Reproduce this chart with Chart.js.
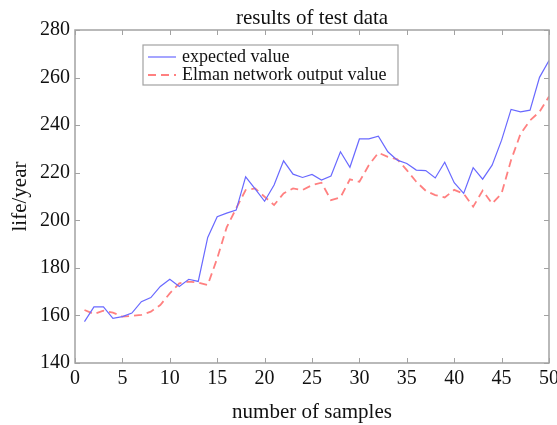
<!DOCTYPE html>
<html>
<head>
<meta charset="utf-8">
<script src="https://cdn.jsdelivr.net/npm/chart.js@4.4.0/dist/chart.umd.min.js"></script>
<style>
  html, body { margin: 0; padding: 0; background: #fff; }
  #wrap { width: 557px; height: 425px; }
</style>
</head>
<body>
<div id="wrap"><canvas id="lifeChart" width="557" height="425"></canvas></div>
<script>
const samples = [1, 2, 3, 4, 5, 6, 7, 8, 9, 10, 11, 12, 13, 14, 15, 16, 17, 18, 19, 20,
  21, 22, 23, 24, 25, 26, 27, 28, 29, 30, 31, 32, 33, 34, 35, 36, 37, 38, 39, 40,
  41, 42, 43, 44, 45, 46, 47, 48, 49, 50];
const expectedValue = [157.4, 163.6, 163.6, 158.8, 159.5, 161, 165.8, 167.5, 172.2, 175.2,
  172.2, 175.2, 174.3, 192.8, 201.5, 203, 204.3, 218.3, 213.2, 208,
  214.8, 225, 219.4, 218, 219.3, 216.9, 218.6, 228.8, 222.3, 234.2,
  234.2, 235.4, 228.8, 225.3, 223.9, 221.1, 220.9, 217.8, 224.4, 215.8,
  211.3, 222.1, 217.3, 223.2, 233.7, 246.6, 245.6, 246.3, 260.1, 267.2];
const elmanOutput = [162.3, 160.6, 162, 161.2, 159.5, 159.8, 160.2, 161.6, 164.4, 169.3,
  173.5, 174.2, 173.8, 172.8, 184, 197, 205, 212.7, 213.4, 209.9,
  206.4, 211.3, 213.4, 212.7, 214.8, 215.8, 208.5, 209.6, 217.2, 216.2,
  223.2, 228.4, 226.7, 225.6, 221.1, 216.2, 212.4, 210.6, 209.6, 212.8,
  211.2, 205.7, 212.5, 207, 211.3, 225.3, 236.4, 242, 245.6, 252];
const xTicks = [0, 5, 10, 15, 20, 25, 30, 35, 40, 45, 50];
const yTicks = [140, 160, 180, 200, 220, 240, 260, 280];

const serif = '"Liberation Serif", "DejaVu Serif", serif';
const frameColor = '#a2a2a2';

// frame, inward ticks, title and legend like the original figure
const figurePlugin = {
  id: 'figure',
  afterDraw(chart) {
    const ctx = chart.ctx;
    const a = chart.chartArea;
    const xs = chart.scales.x, ys = chart.scales.y;
    ctx.save();
    ctx.strokeStyle = frameColor;
    ctx.lineWidth = 1.5;
    ctx.strokeRect(a.left, a.top, a.right - a.left, a.bottom - a.top);
    ctx.lineWidth = 1;
    ctx.beginPath();
    xTicks.forEach(v => {
      const px = Math.round(xs.getPixelForValue(v)) + 0.5;
      ctx.moveTo(px, a.bottom); ctx.lineTo(px, a.bottom - 5);
      ctx.moveTo(px, a.top); ctx.lineTo(px, a.top + 5);
    });
    yTicks.forEach(v => {
      const py = Math.round(ys.getPixelForValue(v)) + 0.5;
      ctx.moveTo(a.left, py); ctx.lineTo(a.left + 5, py);
      ctx.moveTo(a.right, py); ctx.lineTo(a.right - 5, py);
    });
    ctx.stroke();

    // title
    ctx.fillStyle = '#111';
    ctx.font = '21px ' + serif;
    ctx.textAlign = 'center';
    ctx.textBaseline = 'alphabetic';
    ctx.fillText('results of test data', (a.left + a.right) / 2, 24);

    // legend box
    const bx = 143, by = 45, bw = 255, bh = 40;
    ctx.fillStyle = '#fff';
    ctx.fillRect(bx, by, bw, bh);
    ctx.strokeStyle = frameColor;
    ctx.lineWidth = 1.2;
    ctx.strokeRect(bx, by, bw, bh);
    chart.data.datasets.forEach((ds, i) => {
      const ly = by + 12 + i * 18;
      ctx.strokeStyle = ds.borderColor;
      ctx.lineWidth = ds.borderWidth;
      ctx.setLineDash(ds.borderDash || []);
      ctx.beginPath();
      ctx.moveTo(bx + 5, ly); ctx.lineTo(bx + 33, ly);
      ctx.stroke();
      ctx.setLineDash([]);
      ctx.fillStyle = '#111';
      ctx.font = '18px ' + serif;
      ctx.textAlign = 'left';
      ctx.textBaseline = 'middle';
      ctx.fillText(ds.label, bx + 39, ly);
    });
    ctx.restore();
  }
};

new Chart(document.getElementById('lifeChart').getContext('2d'), {
  type: 'line',
  data: {
    labels: samples,
    datasets: [{
      label: 'expected value',
      data: samples.map((s, i) => ({ x: s, y: expectedValue[i] })),
      borderColor: 'rgb(105, 105, 255)',
      borderWidth: 1.2,
      pointRadius: 0,
      fill: false,
      tension: 0
    }, {
      label: 'Elman network output value',
      data: samples.map((s, i) => ({ x: s, y: elmanOutput[i] })),
      borderColor: 'rgb(255, 128, 128)',
      borderWidth: 1.8,
      borderDash: [8, 5],
      pointRadius: 0,
      fill: false,
      tension: 0
    }]
  },
  options: {
    responsive: false,
    animation: false,
    layout: { padding: { top: 30, right: 8, left: 0, bottom: 0 } },
    plugins: {
      legend: { display: false },
      tooltip: { enabled: false },
      title: { display: false }
    },
    scales: {
      x: {
        type: 'linear',
        min: 0, max: 50,
        afterFit(scale) {
          scale.height = 62;
          scale.paddingLeft = 0;
          scale.paddingRight = 0;
        },
        afterBuildTicks(scale) { scale.ticks = xTicks.map(v => ({ value: v })); },
        grid: { display: false, drawTicks: false },
        border: { display: false },
        ticks: { color: '#111', font: { family: serif, size: 20 }, padding: 4, maxRotation: 0 },
        title: { display: true, text: 'number of samples', color: '#111', font: { family: serif, size: 21 }, padding: { top: 0, bottom: 0 } }
      },
      y: {
        min: 140, max: 280,
        afterFit(scale) { scale.width = 75; },
        afterBuildTicks(scale) { scale.ticks = yTicks.map(v => ({ value: v })); },
        grid: { display: false, drawTicks: false },
        border: { display: false },
        ticks: { color: '#111', font: { family: serif, size: 20 }, padding: 5 },
        title: { display: true, text: 'life/year', color: '#111', font: { family: serif, size: 21 }, padding: { top: 8, bottom: 0 } }
      }
    }
  },
  plugins: [figurePlugin]
});
</script>
</body>
</html>
